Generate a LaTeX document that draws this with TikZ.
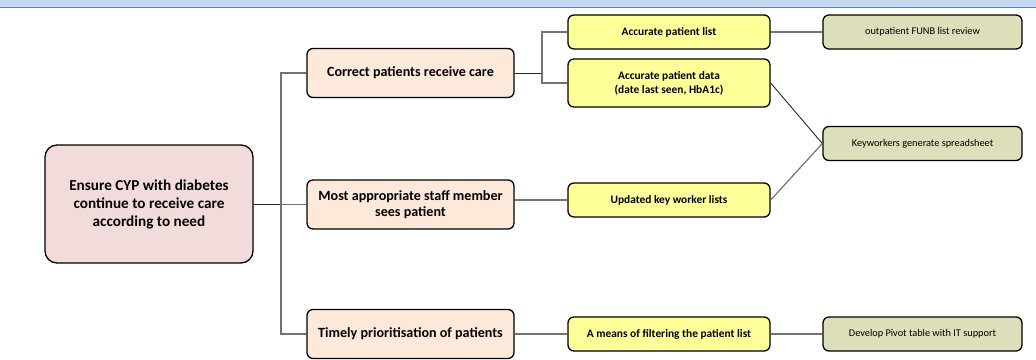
\documentclass[tikz,border=0pt]{standalone}
\usepackage{fontspec}
\setmainfont{Carlito}
\usetikzlibrary{positioning}
\definecolor{goalfill}{HTML}{F2DCDB}
\definecolor{driverfill}{HTML}{FDE9D9}
\definecolor{needfill}{HTML}{FFFF99}
\definecolor{actfill}{HTML}{DDDFBA}
\definecolor{bandfill}{HTML}{C6D9F1}
\definecolor{bandline}{HTML}{4F81BD}
\tikzset{box/.style={draw=black, line width=1.3pt, rounded corners=6pt, align=center, inner sep=2pt},
  goal/.style={box, fill=goalfill, rounded corners=12pt, minimum width=208pt, minimum height=118pt, font=\bfseries\fontsize{15.2}{18}\selectfont},
  driver/.style={box, fill=driverfill, minimum width=207pt, minimum height=49pt, font=\bfseries\fontsize{14.1}{16}\selectfont},
  need/.style={box, fill=needfill, minimum width=202pt, minimum height=34pt, font=\bfseries\fontsize{11.4}{14}\selectfont},
  act/.style={box, fill=actfill, minimum width=199pt, minimum height=34pt, font=\fontsize{10.3}{12}\selectfont},
  link/.style={draw=black!85, line width=0.9pt},
  trunk/.style={draw=black!55, line width=1.2pt}}

\begin{document}
\begin{tikzpicture}[x=1pt, y=-1pt]
    \useasboundingbox (0,0) rectangle (1036,359);
    \fill[bandfill] (0,0) rectangle (1036,7);
    \draw[bandline, line width=1pt] (0,7) -- (1036,7);
    % goal and primary drivers
    \node[goal] (m) at (149,204) {Ensure CYP with diabetes\\continue to receive care\\according to need};
    \node[driver] (c) at (410.5,73) {Correct patients receive care};
    \node[driver] (s) at (410.5,204.5) {Most appropriate staff member\\sees patient};
    \node[driver] (p) at (410.5,334) {Timely prioritisation of patients};
    % secondary drivers
    \node[need] (a1) at (669,32) {Accurate patient list};
    \node[need, minimum height=48pt] (a2) at (669,83) {Accurate patient data\\(date last seen, HbA1c)};
    \node[need] (u) at (669,200) {Updated key worker lists};
    \node[need] (f) at (669,334) {A means of filtering the patient list};
    % change ideas
    \node[act] (o) at (922.5,32) {outpatient FUNB list review};
    \node[act] (k) at (922.5,143.5) {Keyworkers generate spreadsheet};
    \node[act] (d) at (922.5,334) {Develop Pivot table with IT support};
    \coordinate (j1) at (281,0);
    \coordinate (j2) at (542,0);
    \draw[link] (m.east) -- (m.east -| j1);
    \draw[trunk] (c.west) -- (c.west -| j1) -- (p.west -| j1) -- (p.west);
    \draw[trunk] (s.west) -- (s.west -| j1);
    \draw[link] (c.east) -- (c.east -| j2);
    \draw[trunk] (a1.west) -- (a1.west -| j2) -- (a2.west -| j2) -- (a2.west);
    \draw[trunk] (s.east |- u.west) -- (u.west);
    \draw[trunk] (p.east) -- (f.west);
    \draw[trunk] (a1.east) -- (o.west);
    \draw[trunk] (f.east) -- (d.west);
    \draw[link] (a2.east) -- (k.west);
    \draw[trunk] (u.east) -- (k.west);
\end{tikzpicture}
\end{document}
